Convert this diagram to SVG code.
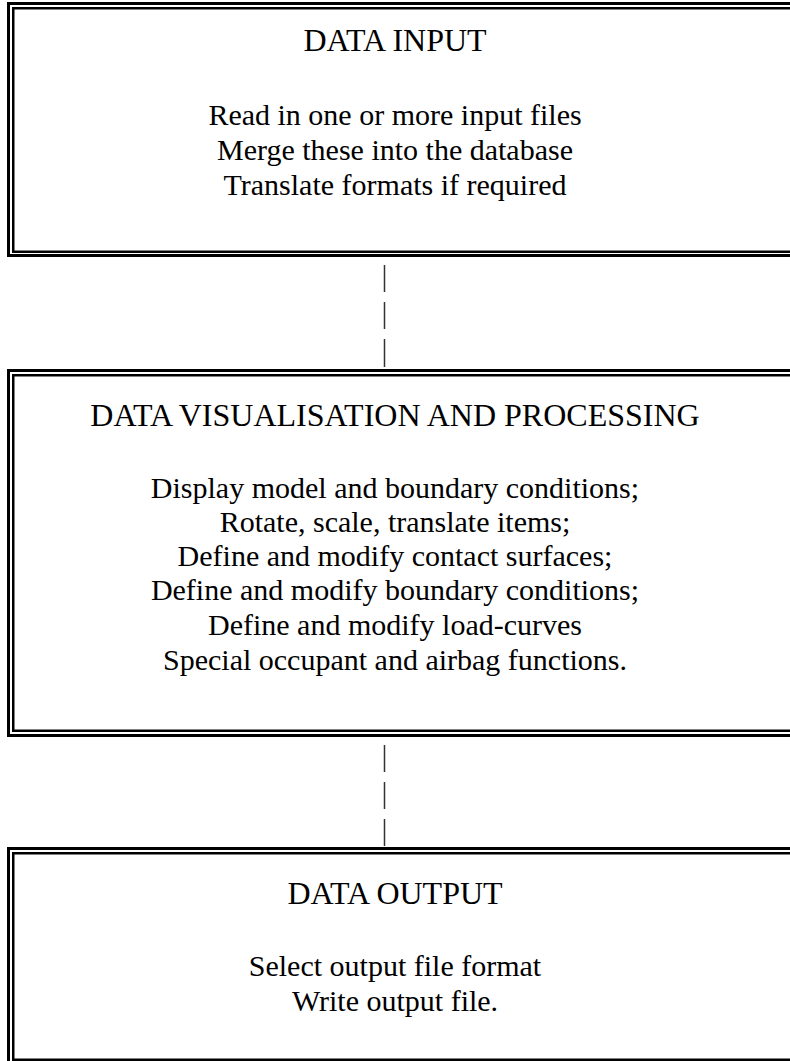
<svg xmlns="http://www.w3.org/2000/svg" width="790" height="1061" viewBox="0 0 790 1061">
  <style>
    .outer { fill: none; stroke: #000; stroke-width: 3; }
    .inner { fill: none; stroke: #000; stroke-width: 2.5; }
    .title { font-family: "Liberation Serif", "Times New Roman", serif; font-size: 32px; fill: #000; text-anchor: middle; }
    .body { font-family: "Liberation Serif", "Times New Roman", serif; font-size: 30px; fill: #000; text-anchor: middle; }
    .bar { stroke: #333; stroke-width: 1.5; }
  </style>
  <rect x="0" y="0" width="790" height="1061" fill="#fff"/>

  <!-- Stage 1: input -->
  <g id="data-input">
    <rect class="outer" x="8.5" y="3.5" width="800" height="252"/>
    <rect class="inner" x="13.25" y="8.25" width="790" height="243.5"/>
    <text class="title" x="395" y="51">DATA INPUT</text>
    <text class="body" x="395" y="125">Read in one or more input files</text>
    <text class="body" x="395" y="160">Merge these into the database</text>
    <text class="body" x="395" y="195">Translate formats if required</text>
  </g>

  <!-- Stage 2: visualisation and processing -->
  <g id="data-processing">
    <rect class="outer" x="8.5" y="370.5" width="800" height="365"/>
    <rect class="inner" x="13.25" y="375.25" width="790" height="355.5"/>
    <text class="title" x="395" y="426">DATA VISUALISATION AND PROCESSING</text>
    <text class="body" x="395" y="498">Display model and boundary conditions;</text>
    <text class="body" x="395" y="532">Rotate, scale, translate items;</text>
    <text class="body" x="395" y="566">Define and modify contact surfaces;</text>
    <text class="body" x="395" y="600">Define and modify boundary conditions;</text>
    <text class="body" x="395" y="635">Define and modify load-curves</text>
    <text class="body" x="395" y="670">Special occupant and airbag functions.</text>
  </g>

  <!-- Stage 3: output -->
  <g id="data-output">
    <rect class="outer" x="8.5" y="848.5" width="800" height="216"/>
    <rect class="inner" x="13.25" y="853.25" width="790" height="206.5"/>
    <text class="title" x="395" y="904">DATA OUTPUT</text>
    <text class="body" x="395" y="976">Select output file format</text>
    <text class="body" x="395" y="1011">Write output file.</text>
  </g>

  <!-- Dashed vertical links between stages -->
  <g id="connectors">
    <line class="bar" x1="384.5" y1="265" x2="384.5" y2="292"/>
    <line class="bar" x1="384.5" y1="302" x2="384.5" y2="329"/>
    <line class="bar" x1="384.5" y1="339" x2="384.5" y2="367"/>
    <line class="bar" x1="384.5" y1="745" x2="384.5" y2="772"/>
    <line class="bar" x1="384.5" y1="782" x2="384.5" y2="809"/>
    <line class="bar" x1="384.5" y1="819" x2="384.5" y2="846"/>
  </g>
</svg>
